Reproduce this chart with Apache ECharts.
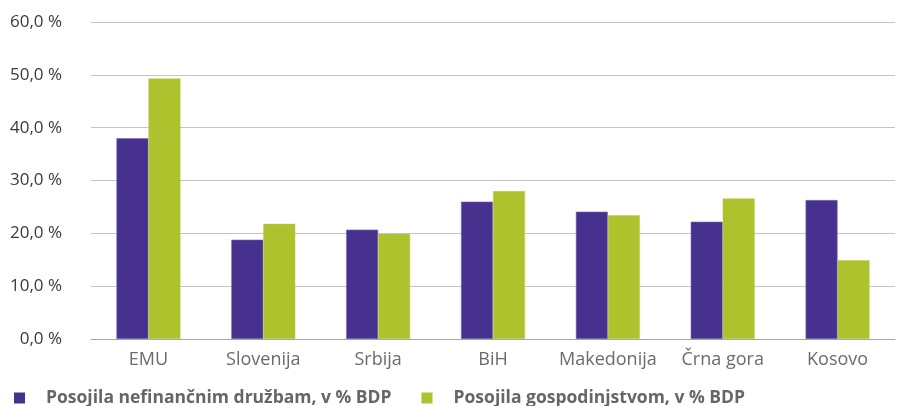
<!DOCTYPE html>
<html><head><meta charset="utf-8">
<script src="https://cdn.jsdelivr.net/npm/echarts@6/dist/echarts.min.js"></script>
<style>html,body{margin:0;padding:0;background:#fff}#c{width:897px;height:406px}</style>
</head><body><div id="c"></div>
<script>
const categories = ['EMU', 'Slovenija', 'Srbija', 'BiH', 'Makedonija', 'Črna gora', 'Kosovo'];
const seriesNames = ['Posojila nefinančnim družbam, v % BDP', 'Posojila gospodinjstvom, v % BDP'];
const corporates = [38.0, 18.8, 20.7, 26.0, 24.1, 22.2, 26.3];
const households = [49.3, 21.8, 19.9, 28.0, 23.4, 26.6, 14.9];
const yTicks = [0, 10, 20, 30, 40, 50, 60];

const chart = echarts.init(document.getElementById('c'));
const font = '"Open Sans", "Noto Sans", sans-serif';
chart.setOption({
  animation: false,
  textStyle: { fontFamily: font },
  grid: { left: 91, right: 2, top: 22, bottom: 67, containLabel: false },
  legend: {
    left: 9, top: 383, itemWidth: 11, itemHeight: 11, itemGap: 30, icon: 'rect',
    itemStyle: { borderWidth: 0 },
    textStyle: { fontFamily: font, fontSize: 17.5, lineHeight: 20, fontWeight: 'bold', color: '#666666', padding: [0, 0, 0, 16] },
    data: seriesNames
  },
  xAxis: {
    type: 'category', data: categories,
    axisLine: { lineStyle: { color: '#a6a6a6', width: 1 } },
    axisTick: { show: false },
    axisLabel: { color: '#6b6b6b', fontSize: 18, margin: 12, interval: 0, fontFamily: font }
  },
  yAxis: {
    type: 'value', min: yTicks[0], max: yTicks[yTicks.length - 1], interval: 10,
    axisLine: { show: false }, axisTick: { show: false },
    splitLine: { lineStyle: { color: '#c4c4c4', width: 1 } },
    axisLabel: {
      color: '#3a3a3a', fontSize: 17, margin: 29, fontFamily: font,
      formatter: v => v.toFixed(1).replace('.', ',') + ' %'
    }
  },
  series: [
    { name: seriesNames[0], type: 'bar', data: corporates, barWidth: 32, barGap: '0%',
      itemStyle: { color: '#46318f', borderColor: '#7a6ab8', borderWidth: 0.6 } },
    { name: seriesNames[1], type: 'bar', data: households, barWidth: 32,
      itemStyle: { color: '#adc22d', borderColor: '#bccd55', borderWidth: 0.5 } }
  ]
});
</script></body></html>
